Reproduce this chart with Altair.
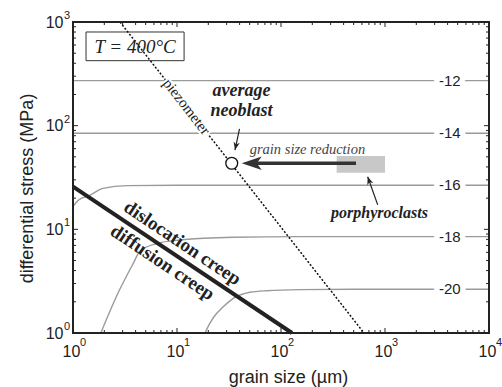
import altair as alt
import pandas as pd

# ---------------- data ----------------
# strain-rate contours (log10 strain rate), grain size (µm) and stress (MPa)
contour_names = ["-12", "-14", "-16", "-18", "-20"]
contour_d = [
    [1, 10000],
    [1, 10000],
    [1, 1.117, 1.457, 1.943, 3.31, 10, 10000],
    [1.85, 2.71, 3.80, 4.41, 6.42, 10.7, 34.5, 152, 10000],
    [18.6, 20.8, 24.1, 25.9, 34.8, 50.3, 72.9, 152, 500, 10000],
]
contour_s = [
    [272, 272],
    [84.4, 84.4],
    [16.6, 19.0, 21.4, 24.8, 26.4, 26.6, 26.6],
    [1.0, 2.43, 4.70, 6.18, 7.30, 7.89, 8.38, 8.5, 8.5],
    [1.0, 1.25, 1.55, 1.67, 2.16, 2.47, 2.56, 2.62, 2.64, 2.64],
]
contour_label_d = 4200

# dislocation / diffusion creep boundary
boundary_d = [1, 127.6]
boundary_s = [25.8, 1.0]

# piezometer
piezo_d = [2.83, 628]
piezo_s = [1000, 1]

# average neoblast & porphyroclasts
neoblast_d = 33.6
neoblast_s = 43.4
porph_d = [343, 1000]
porph_s = [35.2, 51.0]

# tick values / labels (base "10" plus superscript exponent)
x_major = [1, 10, 100, 1000, 10000]
y_major = [1, 10, 100, 1000]
minor_mult = [2, 3, 4, 5, 6, 7, 8, 9]
x_exponents = ["0", "1", "2", "3", "4"]
y_exponents = ["0", "1", "2", "3"]

# ---------------- build chart ----------------
W, H = 416, 311
xs = alt.Scale(type="log", domain=[1, 10000], nice=False)
ys = alt.Scale(type="log", domain=[1, 1000], nice=False)
SANS = "Liberation Sans"
SERIF = "Liberation Serif"
INK = "#222222"

rows = []
for n, ds, ss in zip(contour_names, contour_d, contour_s):
    for i, (d, s) in enumerate(zip(ds, ss)):
        rows.append({"c": n, "i": i, "d": d, "s": s})
cdf = pd.DataFrame(rows)

x_axis = alt.Axis(values=x_major, labelExpr="'10'", ticks=False, domain=False, grid=False,
                  title="grain size (µm)", labelFont=SANS, labelFontSize=16, labelColor=INK,
                  labelPadding=10, labelOffset=-2, titleFont=SANS, titleFontSize=18,
                  titleFontWeight="normal", titleColor=INK, titlePadding=9, titleX=215,
                  labelFlush=False)
y_axis = alt.Axis(values=y_major, labelExpr="'10'", ticks=False, domain=False, grid=False,
                  title="differential stress (MPa)", labelFont=SANS, labelFontSize=16,
                  labelColor=INK, labelPadding=10, titleFont=SANS, titleFontSize=18,
                  titleFontWeight="normal", titleColor=INK, titlePadding=9, titleY=166,
                  labelFlush=False)


def X(field="d"):
    return alt.X(f"{field}:Q", scale=xs, axis=x_axis, title="grain size (µm)")


def Y(field="s"):
    return alt.Y(f"{field}:Q", scale=ys, axis=y_axis, title="differential stress (MPa)")


contours = alt.Chart(cdf).mark_line(color="#9a9a9a", strokeWidth=1.4, interpolate="monotone").encode(
    x=X(), y=Y(), detail="c:N", order="i:Q")

bdf = pd.DataFrame({"d": boundary_d, "s": boundary_s})
boundary = alt.Chart(bdf).mark_line(color=INK, strokeWidth=4).encode(x=X(), y=Y())

pdf = pd.DataFrame({"d": piezo_d, "s": piezo_s})
piezo = alt.Chart(pdf).mark_line(color="#111111", strokeWidth=1.5, strokeDash=[2, 1.8]).encode(x=X(), y=Y())

rect_df = pd.DataFrame({"d": [porph_d[0]], "d2": [porph_d[1]], "s": [porph_s[0]], "s2": [porph_s[1]]})
porph = alt.Chart(rect_df).mark_rect(color="#c8c8c8").encode(
    x=X("d"), x2="d2:Q", y=Y("s"), y2="s2:Q")

# T box
tbox_df = pd.DataFrame({"d": [1.334], "d2": [11.7], "s": [423.6], "s2": [801]})
tbox = alt.Chart(tbox_df).mark_rect(fill="white", stroke="#333333", strokeWidth=1).encode(
    x=X("d"), x2="d2:Q", y=Y("s"), y2="s2:Q")

# big arrow
arrow_df = pd.DataFrame({"d": [526, 57.5], "s": [neoblast_s, neoblast_s]})
arrow_line = alt.Chart(arrow_df).mark_line(color="#333333", strokeWidth=3.5).encode(x=X(), y=Y())
head_df = pd.DataFrame({"d": [52.3], "s": [neoblast_s]})
arrow_head = alt.Chart(head_df).mark_point(
    shape="M -1 0 L 1 -0.67 L 0.5 0 L 1 0.67 Z", size=400, filled=True, color="#333333",
    opacity=1, strokeWidth=0).encode(x=X(), y=Y())

# small arrows
sa_df = pd.DataFrame({"d": [39.9, 36.1, 851, 682], "s": [92.9, 58.2, 17.2, 32.2], "g": ["a", "a", "b", "b"]})
small_lines = alt.Chart(sa_df).mark_line(color=INK, strokeWidth=1.2).encode(x=X(), y=Y(), detail="g:N")
sh_df = pd.DataFrame({"d": [36.8, 702], "s": [63.5, 29.6], "ang": [282, 70.5]})
small_heads = alt.Chart(sh_df).mark_point(
    shape="M -1 0 L 1 -0.8 L 0.4 0 L 1 0.8 Z", size=64, filled=True, color=INK,
    opacity=1, strokeWidth=0).encode(x=X(), y=Y(), angle=alt.Angle("ang:Q", scale=None))

# neoblast circle
circ_df = pd.DataFrame({"d": [neoblast_d], "s": [neoblast_s]})
circle = alt.Chart(circ_df).mark_point(shape="circle", size=140, filled=True, fill="white",
                                        stroke="#111111", strokeWidth=1.3, opacity=1).encode(x=X(), y=Y())

# contour labels with white halo
lab_df = pd.DataFrame({"d": [contour_label_d] * 5, "s": [ss[-1] for ss in contour_s], "t": contour_names})
lab_halo = alt.Chart(lab_df).mark_text(font=SANS, fontSize=15, color="white", stroke="white",
                                       strokeWidth=11, strokeJoin="round").encode(x=X(), y=Y(), text="t:N")
lab_text = alt.Chart(lab_df).mark_text(font=SANS, fontSize=15, color=INK).encode(x=X(), y=Y(), text="t:N")


def ann(text, d, s, size, style="normal", weight="normal", angle=0, color=INK, halo=0):
    df = pd.DataFrame({"d": [d], "s": [s], "t": [text]})
    layers = []
    if halo:
        layers.append(alt.Chart(df).mark_text(font=SERIF, fontSize=size, fontStyle=style, fontWeight=weight,
                                              angle=angle, color="white", stroke="white",
                                              strokeWidth=halo, strokeJoin="round").encode(x=X(), y=Y(), text="t:N"))
    layers.append(alt.Chart(df).mark_text(font=SERIF, fontSize=size, fontStyle=style, fontWeight=weight,
                                          angle=angle, color=color).encode(x=X(), y=Y(), text="t:N"))
    return layers


texts = []
texts += ann("T = 400°C", 3.95, 580, 19, style="italic")
texts += ann("piezometer", 12.4, 152.8, 15, angle=52, halo=4)
texts += ann("average", 41.7, 213.6, 18, style="italic", weight="bold")
texts += ann("neoblast", 41.7, 138.6, 18, style="italic", weight="bold")
texts += ann("grain size reduction", 179.5, 58.2, 14.5, style="italic", color="#444444")
texts += ann("porphyroclasts", 885, 14.4, 16, style="italic", weight="bold")
texts += ann("dislocation creep", 11.3, 7.38, 19, weight="bold", angle=33.8)
texts += ann("diffusion creep", 7.25, 4.79, 19, weight="bold", angle=33.8)

# superscript exponents of tick labels
xsup_df = pd.DataFrame({"d": x_major, "t": x_exponents})
xsup = alt.Chart(xsup_df).mark_text(font=SANS, fontSize=11, color=INK, align="left", baseline="middle",
                                    dx=7).encode(x=X(), y=alt.value(H + 10), text="t:N")
ysup_df = pd.DataFrame({"s": y_major, "t": y_exponents})
ysup = alt.Chart(ysup_df).mark_text(font=SANS, fontSize=11, color=INK, align="left", baseline="middle",
                                    dy=-6).encode(y=Y(), x=alt.value(-9), text="t:N")

# inward ticks
xmin = [m * 10 ** k for k in range(4) for m in minor_mult]
ymin = [m * 10 ** k for k in range(3) for m in minor_mult]
xt_major = pd.DataFrame({"d": x_major})
xt_minor = pd.DataFrame({"d": xmin})
yt_major = pd.DataFrame({"s": y_major})
yt_minor = pd.DataFrame({"s": ymin})


def xticks(df, L):
    b = alt.Chart(df).mark_rule(color=INK, strokeWidth=1).encode(x=X(), y=alt.value(H), y2=alt.value(H - L))
    t = alt.Chart(df).mark_rule(color=INK, strokeWidth=1).encode(x=X(), y=alt.value(0), y2=alt.value(L))
    return [b, t]


def yticks(df, L):
    l = alt.Chart(df).mark_rule(color=INK, strokeWidth=1).encode(y=Y(), x=alt.value(0), x2=alt.value(L))
    r = alt.Chart(df).mark_rule(color=INK, strokeWidth=1).encode(y=Y(), x=alt.value(W), x2=alt.value(W - L))
    return [l, r]


ticks = xticks(xt_major, 5) + xticks(xt_minor, 3) + yticks(yt_major, 5) + yticks(yt_minor, 3)

# frame
frame_df = pd.DataFrame({"d": [1], "d2": [10000], "s": [1], "s2": [1000]})
frame = alt.Chart(frame_df).mark_rect(fill=None, stroke=INK, strokeWidth=2).encode(
    x=X("d"), x2="d2:Q", y=Y("s"), y2="s2:Q")

chart = alt.layer(
    contours, porph, tbox, lab_halo, lab_text, boundary, piezo, arrow_line, arrow_head,
    small_lines, small_heads, circle, *texts, xsup, ysup, *ticks, frame
).properties(
    width=W, height=H,
    background="white",
    autosize=alt.AutoSizeParams(type="none"),
    padding={"left": 73, "top": 22, "right": 13, "bottom": 54},
).configure_view(stroke=None)

chart.save("out.html", embed_options={"renderer": "svg", "actions": False})
